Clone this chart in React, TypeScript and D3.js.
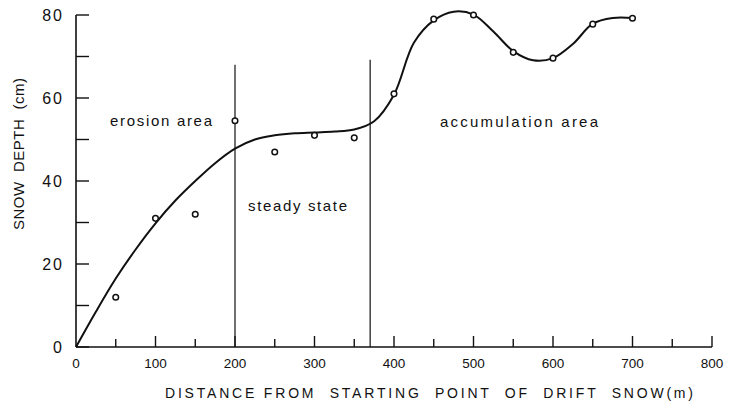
import React from "react";
import * as d3 from "d3";

const pointX = [50, 100, 150, 200, 250, 300, 350, 400, 450, 500, 550, 600, 650, 700];
const pointY = [12, 31, 32, 54.5, 47, 51, 50.4, 61, 79, 80, 71, 69.6, 77.8, 79.2];

const curveX = [0, 25, 50, 75, 100, 125, 150, 175, 200, 225, 250, 275, 300, 325, 350, 375, 400, 425, 450, 475, 500, 525, 550, 575, 600, 625, 650, 675, 700];
const curveY = [0, 8.5, 16.5, 23.5, 29.8, 35.3, 40, 44.3, 47.8, 50, 51, 51.5, 51.7, 51.9, 52.4, 54.4, 60.8, 73.3, 78.7, 80.8, 80.1, 76, 71.3, 69.1, 69.6, 73, 77.9, 79.3, 79.3];

const boundaryX = [200, 370];
const boundaryTop = [68, 69.2];

const xTicks = [0, 100, 200, 300, 400, 500, 600, 700, 800];
const xMinorTicks = [50, 150, 250, 350, 450, 550, 650, 750];
const yTicks = [0, 20, 40, 60, 80];
const yMinorTicks = [10, 30, 50, 70];

const annotations = [
  { text: "erosion area", x: 110, y: 126, w: 102 },
  { text: "steady state", x: 248, y: 211, w: 99 },
  { text: "accumulation area", x: 440, y: 127, w: 158 },
];

export default function App() {
  const W = 732, H = 407;
  const x = d3.scaleLinear().domain([0, 800]).range([76, 712]);
  const y = d3.scaleLinear().domain([0, 80]).range([347, 15]);
  const curveData = curveX.map((v, i) => [v, curveY[i]] as [number, number]);
  const line = d3
    .line<[number, number]>()
    .x((d) => x(d[0]))
    .y((d) => y(d[1]))
    .curve(d3.curveCatmullRom.alpha(0.5));
  const font = "'Liberation Sans', Arial, sans-serif";
  return (
    <svg
      width={W}
      height={H}
      style={{ position: "absolute", left: 0, top: 0, background: "#fff" }}
    >
      <rect x={0} y={0} width={W} height={H} fill="#fff" />
      {/* axes */}
      <line x1={x(0)} x2={x(0)} y1={y(80)} y2={y(0)} stroke="#111" strokeWidth={1.6} />
      <line x1={x(0)} x2={x(800)} y1={y(0)} y2={y(0)} stroke="#111" strokeWidth={1.6} />
      {yTicks.concat(yMinorTicks).map((t) => (
        <line key={"yt" + t} x1={x(0)} x2={x(0) + 13} y1={y(t)} y2={y(t)} stroke="#111" strokeWidth={1.4} />
      ))}
      {xTicks.filter((t) => t > 0).map((t) => (
        <line key={"xt" + t} x1={x(t)} x2={x(t)} y1={y(0)} y2={y(0) - 11} stroke="#111" strokeWidth={1.4} />
      ))}
      {xMinorTicks.map((t) => (
        <line key={"xm" + t} x1={x(t)} x2={x(t)} y1={y(0)} y2={y(0) - 8} stroke="#111" strokeWidth={1.4} />
      ))}
      {yTicks.map((t) => (
        <text
          key={"yl" + t}
          x={x(0) - 12}
          y={y(t)}
          dy="0.36em"
          textAnchor="end"
          fontFamily={font}
          fontSize={16}
          letterSpacing={2}
          fill="#111"
        >
          {t}
        </text>
      ))}
      {xTicks.map((t) => (
        <text
          key={"xl" + t}
          x={x(t)}
          y={368}
          textAnchor="middle"
          fontFamily={font}
          fontSize={13.5}
          fill="#111"
        >
          {t}
        </text>
      ))}
      <text
        x={165}
        y={398}
        textLength={528}
        lengthAdjust="spacing"
        fontFamily={font}
        fontSize={14}
        fill="#111"
        style={{ whiteSpace: "pre" }}
      >
        {"DISTANCE FROM  STARTING  POINT  OF  DRIFT  SNOW(m)"}
      </text>
      <text
        transform={`translate(24,230) rotate(-90)`}
        textLength={152}
        lengthAdjust="spacing"
        fontFamily={font}
        fontSize={15}
        fill="#111"
        style={{ whiteSpace: "pre" }}
      >
        {"SNOW  DEPTH  (cm)"}
      </text>
      {/* boundaries */}
      {boundaryX.map((b, i) => (
        <line key={"b" + b} x1={x(b)} x2={x(b)} y1={y(boundaryTop[i])} y2={y(0)} stroke="#111" strokeWidth={1.2} />
      ))}
      {/* curve */}
      <path d={line(curveData) || ""} fill="none" stroke="#111" strokeWidth={2} />
      {/* points */}
      {pointX.map((px, i) => (
        <circle key={"p" + px} cx={x(px)} cy={y(pointY[i])} r={2.8} fill="#fff" stroke="#111" strokeWidth={1.5} />
      ))}
      {annotations.map((a) => (
        <text
          key={a.text}
          x={a.x}
          y={a.y}
          textLength={a.w}
          lengthAdjust="spacing"
          fontFamily={font}
          fontSize={15}
          fill="#111"
        >
          {a.text}
        </text>
      ))}
    </svg>
  );
}
